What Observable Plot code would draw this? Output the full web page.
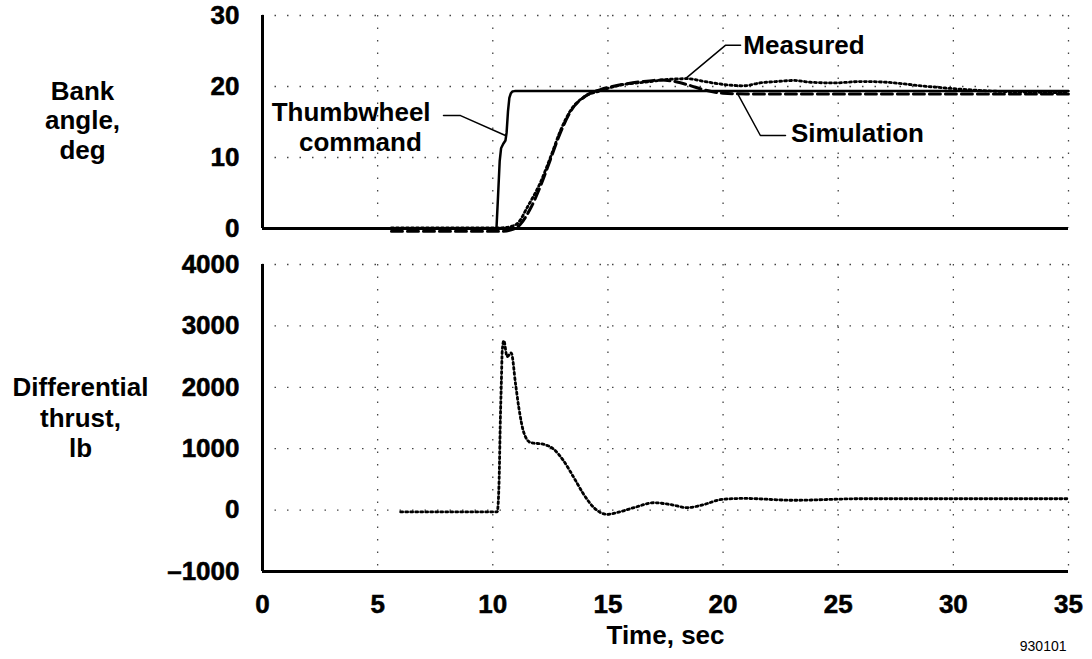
<!DOCTYPE html>
<html><head><meta charset="utf-8">
<script src="https://cdn.jsdelivr.net/npm/d3@7"></script>
<script src="https://cdn.jsdelivr.net/npm/@observablehq/plot@0.6"></script>
<style>
body{margin:0;background:#fff;}
#chart{position:relative;width:1092px;height:659px;overflow:hidden;background:#fff;}
#top{position:absolute;left:0;top:0;}
#bottom{position:absolute;left:0;top:240px;}
#chart svg text.bold, #chart svg g[aria-label="y-axis tick label"] text, #chart svg g[aria-label="x-axis tick label"] text {stroke:black;stroke-width:0.55px;}
</style></head><body><div id="chart"><div id="top"></div><div id="bottom"></div></div>
<script>
// ---- data ----
const xTicks = [0, 5, 10, 15, 20, 25, 30, 35];
const bankTicks = [0, 10, 20, 30];
const thrustTicks = [-1000, 0, 1000, 2000, 3000, 4000];

const thumbTime = [6, 10.16, 10.22, 10.3, 10.36, 10.45, 10.55, 10.6, 10.66, 10.72, 10.78, 10.85, 10.95, 35];
const thumbDeg  = [0, 0, 4, 9.5, 11.3, 11.9, 12.4, 13.5, 16.5, 18.4, 19.0, 19.3, 19.35, 19.35];

const measTime = [5.6, 10.4, 10.8, 11.1, 11.5, 12.07, 12.5, 12.94, 13.37, 13.95, 14.68, 15.4, 16.85, 17.6, 18.44, 19.2, 20.0, 20.9, 21.6, 22.3, 23.1, 23.8, 24.8, 26.0, 27.1, 28.6, 30.0, 31.7, 33.5, 35];
const measDeg  = [0.1, 0.1, 0.3, 0.8, 3.0, 6.5, 10.0, 13.8, 16.6, 18.5, 19.4, 20.1, 20.7, 21.0, 21.1, 20.7, 20.3, 20.1, 20.5, 20.7, 20.85, 20.6, 20.5, 20.7, 20.6, 20.1, 19.7, 19.35, 19.2, 19.1];

const simTime = [5.6, 10.4, 10.8, 11.2, 11.6, 12.1, 12.5, 12.95, 13.4, 14.0, 14.7, 15.5, 16.5, 17.3, 17.9, 18.5, 19.2, 20.0, 21.0, 35];
const simDeg  = [-0.4, -0.4, -0.2, 0.6, 2.6, 6.2, 9.7, 13.6, 16.6, 18.6, 19.6, 20.2, 20.7, 20.9, 20.7, 20.2, 19.5, 19.05, 18.95, 18.95];

const thrustTime = [6.0, 10.19, 10.27, 10.33, 10.37, 10.41, 10.48, 10.62, 10.8, 10.99, 11.13, 11.35, 11.64, 12.22, 12.65, 13.08, 13.52, 13.95, 14.39, 14.97, 15.4, 16.13, 16.99, 17.72, 18.44, 19.16, 19.96, 20.9, 23.07, 25.97, 35];
const thrustLb   = [-30, -30, 420, 1500, 2050, 2590, 2760, 2500, 2560, 2050, 1670, 1260, 1100, 1070, 990, 800, 530, 255, 40, -70, -40, 40, 120, 90, 40, 90, 175, 190, 160, 185, 185];

// annotation leader lines (data units)
const thumbLeaderT = [7.86, 8.6, 10.55];
const thumbLeaderV = [15.9, 15.9, 13.1];
const measLeaderT = [20.76, 20.1, 18.37];
const measLeaderV = [25.8, 25.8, 21.1];
const simLeaderT = [22.71, 21.62, 20.63];
const simLeaderV = [13.1, 13.1, 19.0];

const labelsEnd = [{t: 7.3, v: 16.3, text: "Thumbwheel"}];
const labelsMiddle = [{t: 4.25, v: 12.1, text: "command"}];
const labelsStart = [
  {t: 20.88, v: 25.8, text: "Measured"},
  {t: 22.95, v: 13.3, text: "Simulation"}
];

// ---- helpers ----
const zipTV = (t, v) => t.map((d, i) => ({t: d, v: v[i]}));
const FONT = "'Liberation Sans', Arial, Helvetica, sans-serif";
const FS = 26;
const gridStyle = {stroke: "#444", strokeOpacity: 1, strokeWidth: 1.3, strokeDasharray: "1.5,11"};
const fmt = d => d < 0 ? "\u2013" + Math.abs(d) : String(d);
const txt = {fontSize: FS, fontWeight: "bold", fill: "black", className: "bold"};

const topChart = Plot.plot({
  width: 1092, height: 240,
  marginLeft: 262, marginRight: 24, marginTop: 15, marginBottom: 12,
  x: {domain: [0, 35], axis: null},
  y: {domain: [0, 30]},
  style: {fontFamily: FONT, fontSize: FS + "px", fontWeight: "bold", color: "black", background: "white", overflow: "visible"},
  marks: [
    Plot.gridX(xTicks.filter(d => d > 0), gridStyle),
    Plot.gridY(bankTicks.filter(d => d > 0), gridStyle),
    Plot.axisY(bankTicks, {tickSize: 0, tickPadding: 23, fontSize: FS, fontWeight: "bold", label: null, tickFormat: fmt}),
    Plot.text(["Bank\nangle,\ndeg"], {...txt, frameAnchor: "left", dx: -180, dy: -2, textAnchor: "middle", lineHeight: 1.13}),
    Plot.line(zipTV(simTime, simDeg), {x: "t", y: "v", stroke: "black", strokeWidth: 3, strokeDasharray: "11,5", curve: "monotone-x"}),
    Plot.line(zipTV(measTime, measDeg), {x: "t", y: "v", stroke: "black", strokeWidth: 2.8, strokeDasharray: "2,3", curve: "monotone-x"}),
    Plot.line(zipTV(thumbTime, thumbDeg), {x: "t", y: "v", stroke: "black", strokeWidth: 2.5, curve: "linear"}),
    Plot.line(zipTV(thumbLeaderT, thumbLeaderV), {x: "t", y: "v", stroke: "black", strokeWidth: 1.5}),
    Plot.line(zipTV(measLeaderT, measLeaderV), {x: "t", y: "v", stroke: "black", strokeWidth: 1.5}),
    Plot.line(zipTV(simLeaderT, simLeaderV), {x: "t", y: "v", stroke: "black", strokeWidth: 1.5}),
    Plot.text(labelsEnd, {...txt, x: "t", y: "v", text: "text", textAnchor: "end"}),
    Plot.text(labelsMiddle, {...txt, x: "t", y: "v", text: "text", textAnchor: "middle"}),
    Plot.text(labelsStart, {...txt, x: "t", y: "v", text: "text", textAnchor: "start"}),
    Plot.ruleX([0], {stroke: "black", strokeWidth: 3}),
    Plot.ruleY([0], {stroke: "black", strokeWidth: 3})
  ]
});
document.getElementById("top").appendChild(topChart);

const bottomChart = Plot.plot({
  width: 1092, height: 419,
  marginLeft: 262, marginRight: 24, marginTop: 24, marginBottom: 88,
  x: {domain: [0, 35]},
  y: {domain: [-1000, 4000]},
  style: {fontFamily: FONT, fontSize: FS + "px", fontWeight: "bold", color: "black", background: "white", overflow: "visible"},
  marks: [
    Plot.gridX(xTicks.filter(d => d > 0), gridStyle),
    Plot.gridY(thrustTicks.filter(d => d > -1000), gridStyle),
    Plot.axisY(thrustTicks, {tickSize: 0, tickPadding: 23, fontSize: FS, fontWeight: "bold", label: null, tickFormat: fmt}),
    Plot.axisX(xTicks, {tickSize: 0, tickPadding: 23, fontSize: FS, fontWeight: "bold", label: null, tickFormat: fmt}),
    Plot.text(["Time, sec"], {...txt, frameAnchor: "bottom", dy: 72, textAnchor: "middle"}),
    Plot.text(["930101"], {frameAnchor: "bottom-right", dx: -2, dy: 79, textAnchor: "end", fontSize: 14, fontWeight: "normal", fill: "black"}),
    Plot.text(["Differential\nthrust,\nlb"], {...txt, frameAnchor: "left", dx: -182, dy: -1, textAnchor: "middle", lineHeight: 1.17}),
    Plot.line(zipTV(thrustTime, thrustLb), {x: "t", y: "v", stroke: "black", strokeWidth: 2.8, strokeDasharray: "2,3", curve: "monotone-x"}),
    Plot.ruleX([0], {stroke: "black", strokeWidth: 3}),
    Plot.ruleY([-1000], {stroke: "black", strokeWidth: 3})
  ]
});
document.getElementById("bottom").appendChild(bottomChart);
</script>
</body></html>
